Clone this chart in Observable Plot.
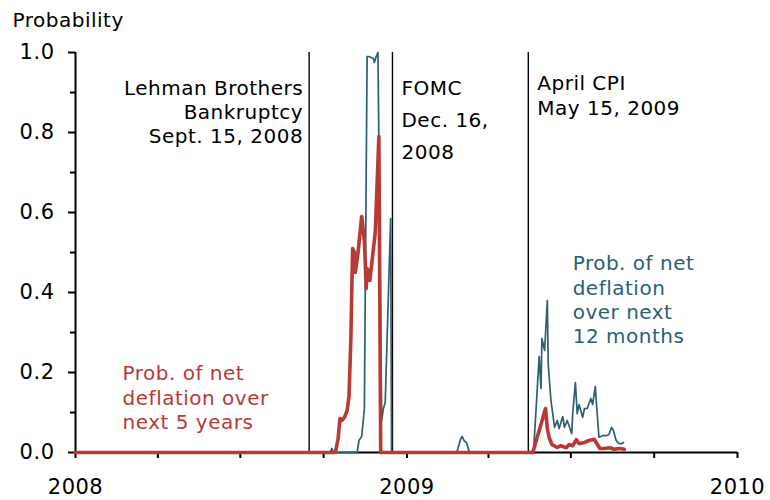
<!DOCTYPE html>
<html>
<head>
<meta charset="utf-8">
<script src="https://cdn.jsdelivr.net/npm/d3@7"></script>
<script src="https://cdn.jsdelivr.net/npm/@observablehq/plot@0.6"></script>
<style>
  html, body { margin: 0; padding: 0; background: #fff; }
  #chart { width: 770px; height: 500px; }
  #chart svg text { letter-spacing: 0.5px; }
</style>
</head>
<body>
<div id="chart"></div>
<script>
// Probability of net deflation over next 5 years (red)
const redDates = ["2008-01-01","2008-10-14","2008-10-17","2008-10-19","2008-10-21","2008-10-24","2008-10-27","2008-10-29","2008-10-31","2008-11-02","2008-11-04","2008-11-05","2008-11-08","2008-11-12","2008-11-15","2008-11-17","2008-11-18","2008-11-21","2008-11-23","2008-11-25","2008-11-27","2008-12-01","2008-12-03","2009-05-20","2009-05-25","2009-05-29","2009-06-03","2009-06-05","2009-06-07","2009-06-10","2009-06-16","2009-06-20","2009-06-26","2009-06-29","2009-07-03","2009-07-07","2009-07-10","2009-07-16","2009-07-21","2009-07-27","2009-07-29","2009-08-02","2009-08-07","2009-08-13","2009-08-18","2009-08-24","2009-08-29"];
const redValues = [0,0,0.035,0.085,0.08,0.088,0.105,0.14,0.28,0.51,0.50,0.45,0.50,0.59,0.53,0.41,0.46,0.43,0.47,0.51,0.55,0.79,0,0,0.04,0.07,0.11,0.06,0.0375,0.02,0.0125,0.017,0.012,0.02,0.017,0.032,0.022,0.025,0.03,0.033,0.025,0.01,0.01,0.012,0.008,0.01,0.008];

// Probability of net deflation over next 12 months (teal)
const tealDates = ["2008-01-01","2008-10-08","2008-10-10","2008-10-12","2008-11-07","2008-11-09","2008-11-12","2008-11-15","2008-11-18","2008-11-20","2008-11-25","2008-11-26","2008-11-28","2008-11-30","2008-12-04","2008-12-06","2008-12-08","2008-12-14","2008-12-15","2009-02-25","2009-03-01","2009-03-03","2009-03-05","2009-03-07","2009-03-08","2009-03-11","2009-05-18","2009-05-21","2009-05-27","2009-05-29","2009-05-30","2009-06-02","2009-06-05","2009-06-06","2009-06-09","2009-06-13","2009-06-16","2009-06-18","2009-06-22","2009-06-24","2009-06-27","2009-07-02","2009-07-03","2009-07-06","2009-07-08","2009-07-10","2009-07-14","2009-07-16","2009-07-19","2009-07-23","2009-07-25","2009-07-28","2009-07-29","2009-08-01","2009-08-05","2009-08-09","2009-08-12","2009-08-15","2009-08-17","2009-08-20","2009-08-23","2009-08-26","2009-08-28"];
const tealValues = [0,0,0.01,0,0,0.03,0.04,0.11,0.99,0.99,0.985,0.975,0.99,1.0,0.08,0.11,0.125,0.585,0,0,0.032,0.04,0.03,0.026,0.023,0,0,0.01,0.24,0.16,0.285,0.255,0.38,0.22,0.13,0.063,0.08,0.06,0.09,0.063,0.08,0.047,0.097,0.175,0.097,0.12,0.088,0.11,0.11,0.135,0.12,0.165,0.13,0.038,0.042,0.042,0.045,0.063,0.055,0.03,0.022,0.022,0.025];

// Event markers
const eventDates = ["2008-09-15","2008-12-16","2009-05-15"];
const eventLabels = [
  ["Lehman Brothers","Bankruptcy","Sept. 15, 2008"],
  ["FOMC","Dec. 16,","2008"],
  ["April CPI","May 15, 2009"]
];
const eventLabelY = [[0.91,0.85,0.79],[0.91,0.83,0.75],[0.9225,0.86]];

// Series labels
const tealLabel = ["Prob. of net","deflation","over next","12 months"];
const tealLabelDate = "2009-07-03";
const tealLabelY = [0.4725,0.41,0.35,0.29];
const redLabel = ["Prob. of net","deflation over","next 5 years"];
const redLabelDate = "2008-02-22";
const redLabelY = [0.1975,0.135,0.075];

// Axes
const yMajorTicks = [0,0.2,0.4,0.6,0.8,1.0];
const yMinorTicks = [0.1,0.3,0.5,0.7,0.9];
const xTickDates = ["2008-01-01","2008-04-01","2008-07-01","2008-10-01","2009-01-01","2009-04-01","2009-07-01","2009-10-01","2010-01-01"];
const xDomain = ["2008-01-01","2010-01-01"];

const RED = "#b83a32";
const TEAL = "#2d5f73";

const red = redDates.map((d, i) => ({date: new Date(d), value: redValues[i]}));
const teal = tealDates.map((d, i) => ({date: new Date(d), value: tealValues[i]}));
const events = eventDates.map((d, i) => ({date: new Date(d), i}));
const eventText = [];
eventLabels.forEach((lines, i) => lines.forEach((t, j) => eventText.push({date: new Date(eventDates[i]), y: eventLabelY[i][j], text: t, ev: i})));
const tealText = tealLabel.map((t, j) => ({date: new Date(tealLabelDate), y: tealLabelY[j], text: t}));
const redText = redLabel.map((t, j) => ({date: new Date(redLabelDate), y: redLabelY[j], text: t}));

const chart = Plot.plot({
  width: 770,
  height: 500,
  marginLeft: 75,
  marginRight: 33,
  marginTop: 52,
  marginBottom: 48,
  style: {fontFamily: "DejaVu Sans", fontSize: "20px", background: "white", color: "black"},
  x: {type: "utc", domain: xDomain.map(d => new Date(d))},
  y: {domain: [0, 1]},
  marks: [
    Plot.axisY({ticks: yMajorTicks, tickFormat: d3.format(".1f"), tickSize: 7, tickPadding: 14, label: null, strokeWidth: 2, fontSize: 21}),
    Plot.axisY({ticks: yMinorTicks, tickFormat: () => "", tickSize: 5, label: null, strokeWidth: 2}),
    Plot.axisX({ticks: xTickDates.map(d => new Date(d)), tickFormat: d => d.getUTCMonth() === 0 ? String(d.getUTCFullYear()) : "", tickSize: 6, tickPadding: 21, label: null, strokeWidth: 2, fontSize: 21}),
    Plot.ruleX([new Date(xDomain[0])], {y1: 0, y2: 1, stroke: "black", strokeWidth: 2}),
    Plot.ruleY([0], {stroke: "black", strokeWidth: 2}),
    Plot.ruleX(events, {x: "date", y1: 0, y2: 1, stroke: "black", strokeWidth: 1.4}),
    Plot.line(teal, {x: "date", y: "value", stroke: TEAL, strokeWidth: 1.7, strokeLinejoin: "round"}),
    Plot.line(red, {x: "date", y: "value", stroke: RED, strokeWidth: 3.6, strokeLinejoin: "round", strokeLinecap: "round"}),
    Plot.text(eventText.filter(d => d.ev === 0), {x: "date", y: "y", text: "text", textAnchor: "end", lineAnchor: "middle", dx: -6, fill: "black"}),
    Plot.text(eventText.filter(d => d.ev > 0), {x: "date", y: "y", text: "text", textAnchor: "start", lineAnchor: "middle", dx: 9, fill: "black"}),
    Plot.text(tealText, {x: "date", y: "y", text: "text", textAnchor: "start", lineAnchor: "middle", fill: TEAL}),
    Plot.text(redText, {x: "date", y: "y", text: "text", textAnchor: "start", lineAnchor: "middle", fill: RED}),
    Plot.text(["Probability"], {frameAnchor: "top-left", textAnchor: "start", lineAnchor: "middle", dx: -63, dy: -32, fill: "black"})
  ]
});
document.getElementById("chart").appendChild(chart);
</script>
</body>
</html>
